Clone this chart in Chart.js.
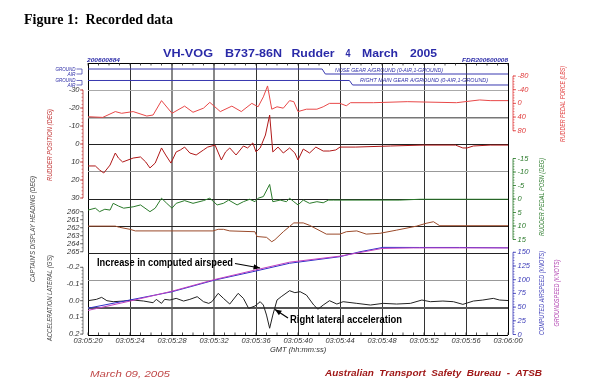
<!DOCTYPE html>
<html><head><meta charset="utf-8">
<script src="https://cdn.jsdelivr.net/npm/chart.js@4/dist/chart.umd.min.js"></script>
<style>html,body{margin:0;padding:0;background:#fff;}canvas{display:block}</style>
</head><body>
<canvas id="c" width="600" height="383"></canvas>
<script>
// ---------- data (time in seconds after 03:05:20) ----------
const timeLabels = ['03:05:20','03:05:24','03:05:28','03:05:32','03:05:36','03:05:40','03:05:44','03:05:48','03:05:52','03:05:56','03:06:00'];

const noseT = [0, 22.3, 22.6, 40];
const noseV = [1, 1, 0, 0];
const mainT = [0, 24.9, 25.2, 40];
const mainV = [1, 1, 0, 0];

const forceT = [0,1.4,2.6,3.2,4.3,5.6,6.2,7.0,8.0,9.2,10.0,11.0,11.6,12.6,13.7,14.6,15.6,16.2,16.7,17.1,17.5,18.0,18.6,19.2,19.6,20.0,20.8,21.8,22.4,23.0,24.0,24.6,25.0,27.2,30.4,35.1,37.3,38.3,40];
const forceV = [39,41,24,29,24,37,34,-8,29,8,26,14,-3,24,8,24,0,10,-19,-51,17,10,14,-8,-5,24,17,17,10,0,0,7,-2,-2,-5,-2,-10,-8,-8];

const rudT = [0,0.7,1.1,1.5,2.1,2.6,2.9,3.3,4.3,5.0,5.5,5.9,6.4,7.0,7.4,7.9,8.4,8.8,9.2,9.7,10.3,11.0,11.4,12.1,12.7,13.1,13.5,14.1,14.8,15.2,15.7,16.0,16.4,16.9,17.3,17.6,18.1,18.6,19.2,19.7,20.0,20.5,21.1,21.7,22.4,23.0,23.6,24.0,25.5,28.8,31.9,35.0,35.7,36.1,36.7,38.3,40];
const rudV = [12.2,12.2,14.4,16.1,11.7,5.0,7.8,10.0,7.8,7.2,10.0,13.3,10.6,2.2,6.1,10.6,4.4,3.3,1.7,5.0,6.1,3.3,1.7,0.6,8.9,4.4,2.2,6.1,1.1,2.2,-0.6,4.4,2.2,-5.0,-16.1,4.4,1.7,5.0,2.2,5.0,8.9,2.8,5.0,1.7,3.9,3.9,3.3,1.7,1.7,1.1,0.6,0.6,2.2,2.2,1.1,0.6,0.6];

const pedT = [0,0.7,1.1,1.6,2.1,2.4,2.9,3.4,4.3,5.0,5.9,6.4,7.0,7.5,8.0,8.4,9.2,10.0,11.0,11.6,12.3,12.9,13.4,14.2,14.8,15.4,15.9,16.2,16.7,17.3,17.6,18.3,18.9,19.2,19.6,20.0,20.5,21.1,21.8,22.4,22.9,23.4,29.7,31.6,40];
const pedV = [4.1,3.4,4.7,3.8,4.1,1.6,2.6,3.4,2.9,2.2,4.7,3.4,-0.3,1.6,3.4,1.6,0.6,1.6,0.6,-0.3,2.2,1.6,0.4,2.2,1.0,0.1,1.0,-0.3,-0.9,-5.4,1.0,0.4,1.0,-0.3,1.0,2.2,0.4,1.6,1.0,1.4,0.4,0.4,0.4,0.1,0.1];

const hdgT = [0,2.6,3.0,4.0,4.5,11.9,12.4,12.9,13.5,15.9,16.1,17.0,17.5,17.8,18.6,19.6,20.5,21.1,22.7,24.0,24.6,25.6,26.5,27.8,29.4,31.3,32.2,32.9,33.5,40];
const hdgV = [261.8,261.8,261.95,262.2,262.4,262.4,262.2,262.2,262.4,262.5,263.1,263.2,263.75,263.5,262.5,261.4,261.4,261.7,262.8,262.8,262.5,262.4,262.8,262.7,262.3,261.8,261.45,261.25,261.75,261.75];

const casT = [0,4.0,8.0,12.1,15.7,19.2,24.0,25.9,28.1,31.6,35.4,40];
const casV = [48,63,78,99.5,114.6,130,142,151,159,158.8,158.8,158.2];
const gsT = [0,4,8,12,16,19.2,24,26,28,31,40];
const gsV = [44,61,79,100,118,132,143,150,157,158,158];

const accT = [0,0.8,1.3,1.8,2.4,3.4,4.3,5.3,6.2,6.5,7.0,7.3,7.8,8.4,9.1,9.7,10.4,11.0,11.5,11.8,12.4,12.9,13.5,14.3,14.8,15.3,15.9,16.4,16.7,17.0,17.3,17.6,18.0,18.4,19.2,19.7,20.2,20.8,21.5,21.9,22.4,23.0,23.7,24.3,25.6,26.9,28.1,29.4,30.7,31.8,32.6,33.8,34.8,35.7,36.7,37.6,38.6,39.2,40];
const accV = [0,-0.008,-0.02,0,0.006,0.002,-0.004,0.002,0.012,-0.008,0.016,-0.008,-0.004,-0.014,0.002,-0.008,-0.024,0.006,0.016,0.006,-0.044,-0.014,0.02,-0.044,-0.014,0.046,0.032,0.006,0.026,0.086,0.165,0.086,-0.004,-0.024,-0.06,-0.048,-0.054,-0.034,0.026,0.051,0.026,0,0.02,0.006,0.016,0.026,0.016,0.02,0.016,-0.004,0.006,0.002,0.006,0.022,0.002,-0.004,-0.014,-0.004,-0.001];

// axis tick labels
const rudTicks = [-30,-20,-10,0,10,20,30];
const hdgTicks = [260,261,262,263,264,265];
const accTicks = [-0.2,-0.1,0.0,0.1,0.2];
const forceTicks = [-80,-40,0,40,80];
const pedTicks = [-15,-10,-5,0,5,10,15];
const spdTicks = [150,125,100,75,50,25,0];

// ---------- helpers ----------
const pts = (t, v) => t.map((x, i) => ({x, y: v[i]}));
const F = '"Liberation Sans", Arial, sans-serif';

function T(ctx, s, x, y, o) {
  ctx.save();
  ctx.font = o.font; ctx.fillStyle = o.color || '#000';
  ctx.textBaseline = 'middle';
  ctx.translate(x, y);
  if (o.rot) ctx.rotate(o.rot);
  const w = ctx.measureText(s).width;
  ctx.scale(o.w ? o.w / w : 1, 1);
  ctx.textAlign = o.align || 'left';
  ctx.fillText(s, 0, 0);
  ctx.restore();
}
function L(ctx, x1, y1, x2, y2, c, lw) {
  ctx.save(); ctx.strokeStyle = c; ctx.lineWidth = lw || 1;
  ctx.beginPath(); ctx.moveTo(x1, y1); ctx.lineTo(x2, y2); ctx.stroke(); ctx.restore();
}
function arrow(ctx, x1, y1, x2, y2) {
  L(ctx, x1, y1, x2, y2, '#000', 1.2);
  const a = Math.atan2(y2 - y1, x2 - x1), h = 7;
  ctx.save(); ctx.fillStyle = '#000'; ctx.beginPath();
  ctx.moveTo(x2, y2);
  ctx.lineTo(x2 - h * Math.cos(a - 0.4), y2 - h * Math.sin(a - 0.4));
  ctx.lineTo(x2 - h * Math.cos(a + 0.4), y2 - h * Math.sin(a + 0.4));
  ctx.closePath(); ctx.fill(); ctx.restore();
}
function fmt(v, d) { return d ? v.toFixed(d) : String(v); }

function leftAxis(ctx, sc, ticks, dec, minor, color, xAxis) {
  const y0 = sc.getPixelForValue(ticks[0]), y1 = sc.getPixelForValue(ticks[ticks.length - 1]);
  L(ctx, xAxis, y0, xAxis, y1, color, 0.8);
  const lo = Math.min(ticks[0], ticks[ticks.length-1]), hi = Math.max(ticks[0], ticks[ticks.length-1]);
  for (let v = lo; v <= hi + 1e-9; v += minor) {
    const y = sc.getPixelForValue(v);
    L(ctx, xAxis - 1.5, y, xAxis, y, color, 0.6);
  }
  ticks.forEach(v => {
    const y = sc.getPixelForValue(v);
    L(ctx, xAxis - 3, y, xAxis, y, color, 0.8);
    T(ctx, fmt(v, dec), xAxis - 3.5, y, {font: 'italic 7.5px ' + F, color: '#333', align: 'right'});
  });
}
function rightAxis(ctx, sc, ticks, minor, color, xAxis) {
  const y0 = sc.getPixelForValue(ticks[0]), y1 = sc.getPixelForValue(ticks[ticks.length - 1]);
  L(ctx, xAxis, y0, xAxis, y1, color, 0.8);
  const lo = Math.min(ticks[0], ticks[ticks.length-1]), hi = Math.max(ticks[0], ticks[ticks.length-1]);
  for (let v = lo; v <= hi + 1e-9; v += minor) {
    const y = sc.getPixelForValue(v);
    L(ctx, xAxis, y, xAxis + 1.5, y, color, 0.6);
  }
  ticks.forEach(v => {
    const y = sc.getPixelForValue(v);
    L(ctx, xAxis, y, xAxis + 3, y, color, 0.8);
    T(ctx, String(v), xAxis + 4.5, y, {font: 'italic 7.5px ' + F, color: color});
  });
}

const deco = {
  id: 'deco',
  afterDraw(chart) {
    const ctx = chart.ctx, s = chart.scales, ca = chart.chartArea;
    // titles
    T(ctx, 'Figure 1:  Recorded data', 24, 20.5, {font: 'bold 14px "Liberation Serif", serif', w: 149});
    const tf = 'bold 11px ' + F, tc = '#2a2aa8';
    T(ctx, 'VH-VOG', 163, 53.5, {font: tf, color: tc, w: 50});
    T(ctx, 'B737-86N', 225, 53.5, {font: tf, color: tc, w: 57});
    T(ctx, 'Rudder', 291.5, 53.5, {font: tf, color: tc, w: 43});
    T(ctx, '4', 345.5, 53.5, {font: tf, color: tc, w: 5});
    T(ctx, 'March', 362, 53.5, {font: tf, color: tc, w: 36});
    T(ctx, '2005', 410, 53.5, {font: tf, color: tc, w: 27});
    T(ctx, '200600884', 87, 60.5, {font: 'bold italic 6px ' + F, color: tc, w: 33});
    T(ctx, 'FDR200600008', 462, 60.5, {font: 'bold italic 6px ' + F, color: tc, w: 46});

    // minor ticks on top / bottom borders
    for (let t = 0; t <= 40; t++) {
      const x = s.x.getPixelForValue(t);
      L(ctx, x, ca.top, x, ca.top + 2.5, '#222', 0.8);
      L(ctx, x, ca.bottom, x, ca.bottom - 2.5, '#222', 0.8);
    }

    // gear labels (left)
    const gc = '#3030a8', gf = 'italic 5.5px ' + F;
    [[s.yNose], [s.yMain]].forEach(([sc]) => {
      const yg = sc.getPixelForValue(1), ya = sc.getPixelForValue(0);
      T(ctx, 'GROUND', 75.5, yg, {font: gf, color: gc, align: 'right', w: 20});
      T(ctx, 'AIR', 75.5, ya, {font: gf, color: gc, align: 'right', w: 8});
      L(ctx, 76.5, yg, 82, yg, gc, 0.7); L(ctx, 82, yg, 82, ya, gc, 0.7); L(ctx, 76.5, ya, 82, ya, gc, 0.7);
    });
    T(ctx, 'NOSE GEAR A/GROUND (0-AIR,1-GROUND)', 335, 70.5, {font: gf, color: gc, w: 108});
    T(ctx, 'RIGHT MAIN GEAR A/GROUND (0-AIR,1-GROUND)', 360, 80.5, {font: gf, color: gc, w: 128});

    // left axes
    leftAxis(ctx, s.yRud, rudTicks, 0, 2, '#c03030', 83);
    leftAxis(ctx, s.yHdg, hdgTicks, 0, 0.5, '#555', 83);
    leftAxis(ctx, s.yAcc, accTicks, 1, 0.02, '#555', 83);
    // right axes
    rightAxis(ctx, s.yForce, forceTicks, 8, '#e03a3a', 513);
    rightAxis(ctx, s.yPed, pedTicks, 1, '#2a7a2a', 513);
    rightAxis(ctx, s.ySpd, spdTicks, 5, '#3a3ab8', 513);

    // axis titles (rotated)
    const af = 'italic 7px ' + F, R = -Math.PI / 2;
    T(ctx, 'RUDDER POSITION (DEG)', 50.5, 145, {font: af, color: '#c03030', rot: R, align: 'center', w: 72});
    T(ctx, "CAPTAIN'S DISPLAY HEADING (DEG)", 33, 229, {font: af, color: '#444', rot: R, align: 'center', w: 106});
    T(ctx, "ACCELERATION LATERAL (G'S)", 50.5, 298, {font: af, color: '#444', rot: R, align: 'center', w: 86});
    T(ctx, 'RUDDER PEDAL FORCE (LBS)', 563, 104, {font: af, color: '#e03a3a', rot: R, align: 'center', w: 76});
    T(ctx, 'RUDDER PEDAL POSN (DEG)', 542, 197, {font: af, color: '#2a7a2a', rot: R, align: 'center', w: 78});
    T(ctx, 'COMPUTED AIRSPEED (KNOTS)', 542, 293, {font: af, color: '#3a3ab8', rot: R, align: 'center', w: 84});
    T(ctx, 'GROUNDSPEED (KNOTS)', 557, 293, {font: af, color: '#b040b0', rot: R, align: 'center', w: 67});

    // annotations
    T(ctx, 'Increase in computed airspeed', 97, 263, {font: 'bold 10px ' + F, color: '#000', w: 136});
    arrow(ctx, 235, 263.5, 260, 268);
    T(ctx, 'Right lateral acceleration', 290, 320, {font: 'bold 10px ' + F, color: '#000', w: 112});
    arrow(ctx, 288, 318, 275, 309.5);

    // footer
    T(ctx, 'March 09, 2005', 90, 374, {font: 'italic 9px ' + F, color: '#c04848', w: 80});
    T(ctx, 'Australian  Transport  Safety  Bureau  -  ATSB', 325, 374, {font: 'bold italic 9px ' + F, color: '#a01818', w: 217});
  }
};

const hColor = ['#000','#555','#999','#222','#222','#222','#999','#222','#777','#aaa','#000'];
const hWidth = [1,2,1,1,1,1,1,1,1.5,1,1];

new Chart(document.getElementById('c'), {
  type: 'line',
  data: {
    datasets: [
      {data: pts(noseT, noseV), yAxisID: 'yNose', borderColor: '#3838b0'},
      {data: pts(mainT, mainV), yAxisID: 'yMain', borderColor: '#3838b0'},
      {data: pts(forceT, forceV), yAxisID: 'yForce', borderColor: '#e84848'},
      {data: pts(rudT, rudV), yAxisID: 'yRud', borderColor: '#b01818'},
      {data: pts(pedT, pedV), yAxisID: 'yPed', borderColor: '#2a7a2a'},
      {data: pts(hdgT, hdgV), yAxisID: 'yHdg', borderColor: '#9a4a2a'},
      {data: pts(gsT, gsV), yAxisID: 'ySpd', borderColor: '#c040c0'},
      {data: pts(casT, casV), yAxisID: 'ySpd', borderColor: '#3030c8'},
      {data: pts(accT, accV), yAxisID: 'yAcc', borderColor: '#222'}
    ]
  },
  options: {
    responsive: false, animation: false, devicePixelRatio: 1,
    layout: {padding: {left: 88, right: 92, top: 63, bottom: 28.5}},
    plugins: {legend: {display: false}, tooltip: {enabled: false}},
    elements: {point: {radius: 0}, line: {borderWidth: 1, tension: 0}},
    scales: {
      x: {
        type: 'linear', min: 0, max: 40,
        ticks: {stepSize: 4, autoSkip: false, maxRotation: 0, padding: 1, color: '#333',
                font: {family: 'Liberation Sans', style: 'italic', size: 7.5},
                callback: (v, i) => timeLabels[i]},
        grid: {drawTicks: false,
               color: c => (c.tick.value === 0 || c.tick.value === 40) ? '#000' : (c.tick.value === 8 || c.tick.value === 12 ? '#888' : '#333'),
               lineWidth: c => (c.tick.value === 8 || c.tick.value === 12) ? 2 : 1},
        border: {display: false},
        title: {display: true, text: 'GMT (hh:mm:ss)', padding: 0, color: '#333',
                font: {family: 'Liberation Sans', style: 'italic', size: 7.5}},
        afterFit: sc => { sc.height = 19.5; }
      },
      yg: {
        type: 'linear', position: 'left', min: 0, max: 10, reverse: true,
        ticks: {display: false, stepSize: 1},
        grid: {drawTicks: false, color: c => hColor[c.index], lineWidth: c => hWidth[c.index]},
        border: {display: false},
        afterFit: sc => { sc.width = 0; }
      },
      yNose: {display: false, min: -52.2, max: 2.2},
      yMain: {display: false, min: -55.56, max: 4.889},
      yForce: {display: false, reverse: true, min: -118, max: 677},
      yRud: {display: false, reverse: true, min: -45, max: 106.1},
      yPed: {display: false, reverse: true, min: -50.4, max: 50.4},
      yHdg: {display: false, reverse: true, min: 241.41, max: 275.41},
      ySpd: {display: false, min: -0.9, max: 495.4},
      yAcc: {display: false, reverse: true, min: -1.4234, max: 0.2054}
    }
  },
  plugins: [deco]
});
</script>
</body></html>
